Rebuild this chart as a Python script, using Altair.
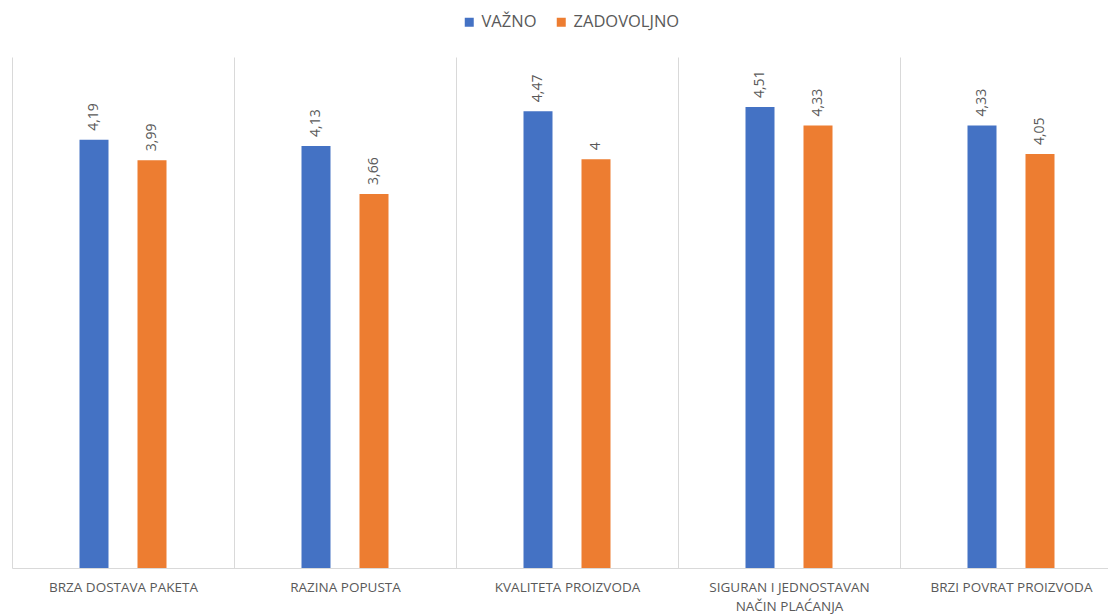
import altair as alt
import pandas as pd

categories = [
    "BRZA DOSTAVA PAKETA",
    "RAZINA POPUSTA",
    "KVALITETA PROIZVODA",
    "SIGURAN I JEDNOSTAVAN\nNAČIN PLAĆANJA",
    "BRZI POVRAT PROIZVODA",
]
series = ["VAŽNO", "ZADOVOLJNO"]
vazno = [4.19, 4.13, 4.47, 4.51, 4.33]
zadovoljno = [3.99, 3.66, 4.00, 4.33, 4.05]
colors = ["#4472C4", "#ED7D31"]

rows = []
for c, v, z in zip(categories, vazno, zadovoljno):
    rows.append({"cat": c, "series": series[0], "value": v})
    rows.append({"cat": c, "series": series[1], "value": z})
df = pd.DataFrame(rows)

FONT = "Open Sans"
GRAY = "#595959"

x = alt.X(
    "cat:N",
    sort=categories,
    title=None,
    scale=alt.Scale(paddingInner=0, paddingOuter=0),
    axis=alt.Axis(
        labelAngle=0,
        labelExpr="split(datum.label, '\\n')",
        tickBand="extent",
        grid=True,
        gridColor="#d9d9d9",
        gridWidth=1,
        domainColor="#d9d9d9",
        domainWidth=1,
        ticks=False,
        labelPadding=12,
        labelFontSize=13.5,
        labelColor=GRAY,
        labelFont=FONT,
        labelLineHeight=19,
        labelBaseline="top",
    ),
)
xoff = alt.XOffset(
    "series:N",
    sort=series,
    scale=alt.Scale(range=[53, 169], paddingInner=0.5, paddingOuter=0.25),
)
y = alt.Y("value:Q", scale=alt.Scale(domain=[0, 5], nice=False), axis=None)

bars = alt.Chart(df).mark_bar().encode(
    x=x,
    xOffset=xoff,
    y=y,
    color=alt.Color(
        "series:N",
        sort=series,
        scale=alt.Scale(domain=series, range=colors),
        legend=alt.Legend(
            orient="none",
            legendX=449,
            legendY=-43,
            direction="horizontal",
            title=None,
            symbolType="square",
            symbolSize=81,
            symbolStrokeWidth=0,
            labelFontSize=16.5,
            labelColor=GRAY,
            labelFont=FONT,
            columnPadding=16,
            gridAlign="none",
            padding=0,
        ),
    ),
)

labels = alt.Chart(df).transform_calculate(
    lab="replace(toString(datum.value), '.', ',')"
).mark_text(
    angle=270, align="left", baseline="middle", dx=9, fontSize=14, color=GRAY, font=FONT
).encode(x=x, xOffset=xoff, y=y, text="lab:N")

chart = (
    alt.layer(bars, labels)
    .properties(
        width=1110,
        height=511,
        autosize=alt.AutoSizeParams(type="none"),
        padding={"left": 4, "top": 49, "right": -14, "bottom": 47},
    )
    .configure_view(strokeWidth=0)
)

chart.save("out.html", embed_options={"renderer": "svg", "actions": False})
